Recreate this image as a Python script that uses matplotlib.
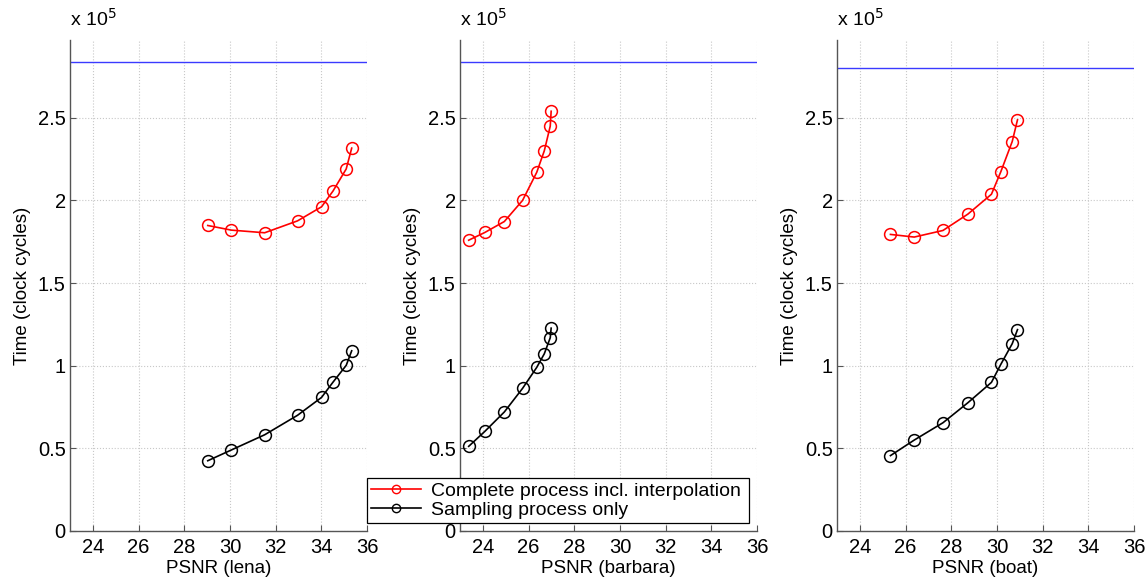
import matplotlib
matplotlib.use("Agg")
import matplotlib.pyplot as plt
from matplotlib.ticker import FuncFormatter
from matplotlib.lines import Line2D

plt.rcParams['font.family'] = ['Liberation Sans', 'DejaVu Sans']

# Data (time values in units of 10^5 clock cycles)
images = ["lena", "barbara", "boat"]
psnr_lena = [29.03, 30.06, 31.52, 32.96, 34.01, 34.51, 35.09, 35.33]
complete_lena = [1.848, 1.820, 1.804, 1.876, 1.961, 2.056, 2.190, 2.316]
sampling_lena = [0.425, 0.490, 0.582, 0.700, 0.808, 0.900, 1.002, 1.090]
ref_lena = 2.835

psnr_barbara = [23.38, 24.09, 24.94, 25.74, 26.36, 26.69, 26.95, 26.99]
complete_barbara = [1.759, 1.806, 1.872, 2.000, 2.170, 2.300, 2.449, 2.539]
sampling_barbara = [0.512, 0.603, 0.720, 0.863, 0.990, 1.072, 1.169, 1.227]
ref_barbara = 2.835

psnr_boat = [25.34, 26.38, 27.64, 28.73, 29.76, 30.17, 30.67, 30.90]
complete_boat = [1.794, 1.778, 1.818, 1.917, 2.037, 2.173, 2.356, 2.487]
sampling_boat = [0.456, 0.550, 0.655, 0.776, 0.899, 1.008, 1.133, 1.218]
ref_boat = 2.800

x_ticks = [24, 26, 28, 30, 32, 34, 36]
y_ticks = [0, 0.5, 1, 1.5, 2, 2.5]
legend_labels = ["Complete process incl. interpolation", "Sampling process only"]

panels = [
    (psnr_lena, complete_lena, sampling_lena, ref_lena),
    (psnr_barbara, complete_barbara, sampling_barbara, ref_barbara),
    (psnr_boat, complete_boat, sampling_boat, ref_boat),
]

fig = plt.figure(figsize=(11.48, 5.83), dpi=100)
W, H = 1148, 583
lefts = [70, 460, 837]
width = 297
top, bottom = 40, 531

tick_fs = 14.5
label_fs = 13.5
spine_col = '#555555'
for i, (name, (px, comp, samp, ref)) in enumerate(zip(images, panels)):
    ax = fig.add_axes([lefts[i] / W, (H - bottom) / H, width / W, (bottom - top) / H])
    ax.axhline(ref, color='#3a3aff', lw=1.0, zorder=2)
    ax.plot(px, comp, '-o', color='red', mfc='none', mec='red', ms=8.5, mew=1.1, lw=1.2, zorder=3)
    ax.plot(px, samp, '-o', color='black', mfc='none', mec='black', ms=8.5, mew=1.1, lw=1.2, zorder=3)
    ax.set_xlim(23, 36)
    ax.set_ylim(0, 2.97)
    ax.set_xticks(x_ticks)
    ax.set_yticks(y_ticks)
    ax.yaxis.set_major_formatter(FuncFormatter(lambda v, p: '%g' % v))
    ax.grid(True, ls=':', color='#c8c8c8', lw=0.8)
    ax.set_axisbelow(True)
    for s in ['top', 'right']:
        ax.spines[s].set_visible(False)
    for s in ['left', 'bottom']:
        ax.spines[s].set_color(spine_col)
        ax.spines[s].set_linewidth(1.0)
    ax.tick_params(direction='in', length=4, color=spine_col, labelsize=tick_fs)
    ax.tick_params(axis='y', pad=3)
    ax.tick_params(axis='x', pad=5)
    ax.set_xlabel('PSNR (%s)' % name, fontsize=label_fs, labelpad=2)
    ax.set_ylabel('Time (clock cycles)', fontsize=label_fs, labelpad=5)
    ax.text(0.0, 1.02, r'x 10$^{5}$', transform=ax.transAxes, fontsize=14,
            ha='left', va='bottom')

handles = [
    Line2D([0], [0], color='red', marker='o', mfc='none', mec='red', ms=6, lw=1.2),
    Line2D([0], [0], color='black', marker='o', mfc='none', mec='black', ms=6, lw=1.2),
]
leg = fig.legend(handles, legend_labels, loc='lower left',
                 bbox_to_anchor=(367 / W, (H - 523) / H, (749 - 367) / W, (523 - 471) / H),
                 mode='expand', fontsize=14, frameon=True, fancybox=False,
                 edgecolor='black', framealpha=1, handlelength=2.6, borderpad=0.2,
                 labelspacing=0.1, handletextpad=0.5, borderaxespad=0)
leg.get_frame().set_linewidth(0.9)

fig.savefig('out.png', dpi=100)
